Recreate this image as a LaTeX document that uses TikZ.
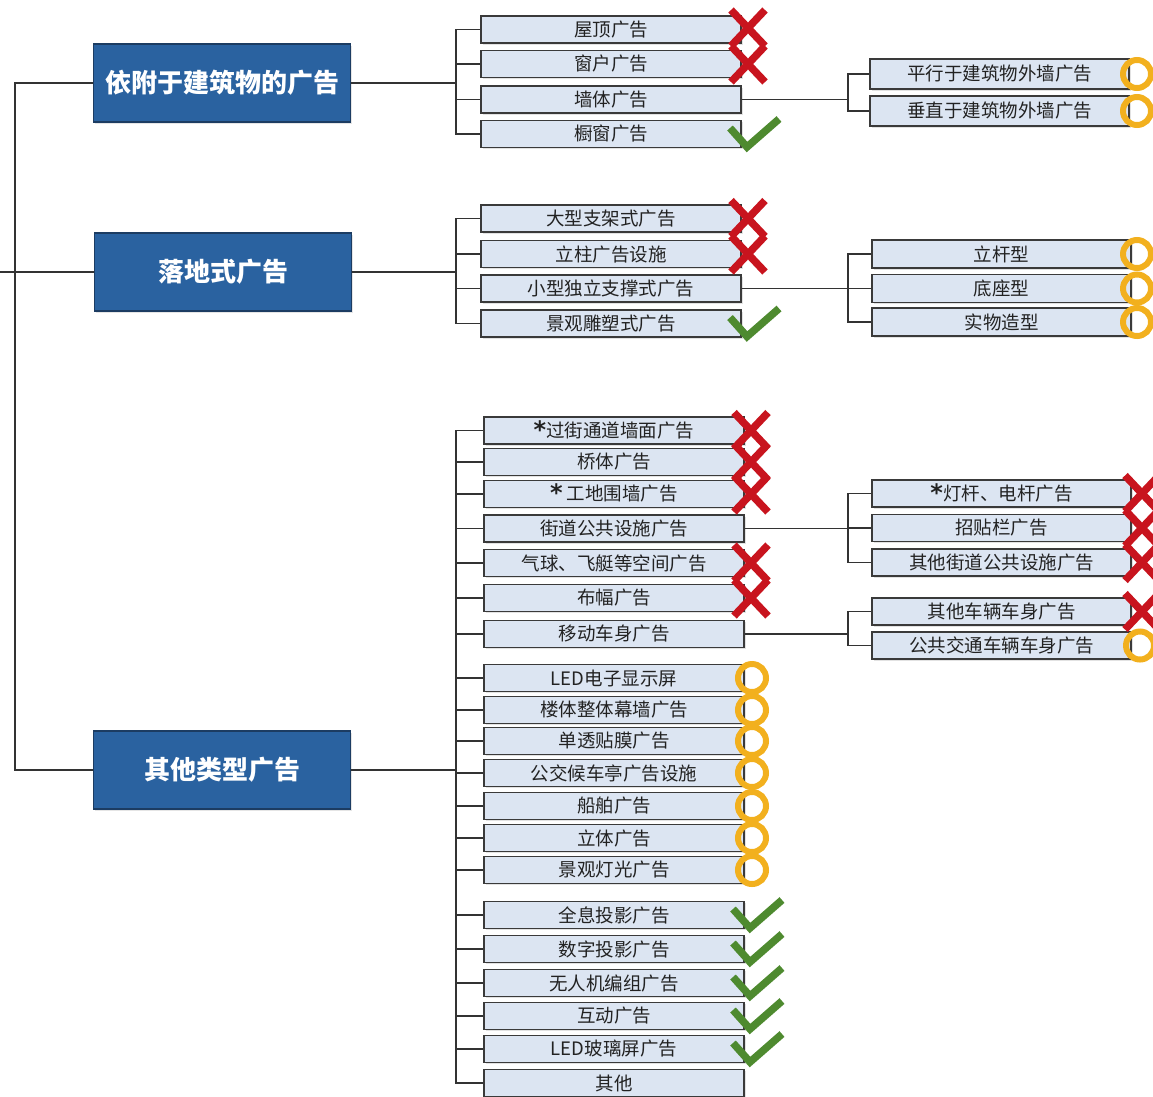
\documentclass[tikz,border=0pt]{standalone}
\usepackage{fontspec}
\newfontfamily\cjkfont{Noto Sans CJK SC}
\newfontfamily\starfont{DejaVu Sans}
\usetikzlibrary{shadows}
\definecolor{mainblue}{HTML}{2A62A0}
\definecolor{mainborder}{HTML}{1C3C62}
\definecolor{leafblue}{HTML}{DCE5F2}
\definecolor{leafborder}{HTML}{3A3A3A}
\definecolor{linegray}{HTML}{333333}
\definecolor{textgray}{HTML}{222222}
\definecolor{redx}{HTML}{C8141E}
\definecolor{greenck}{HTML}{4E8A2F}
\definecolor{ringor}{HTML}{F2B01E}
\newcommand{\mystar}{{\starfont\bfseries\fontsize{24}{24}\selectfont\raisebox{-1pt}[0pt][0pt]{*}}}
\tikzset{
  mainbox/.style={draw=mainborder, fill=mainblue, line width=1.2pt,
    minimum width=257pt, minimum height=78pt, inner sep=0pt, text=white,
    font=\cjkfont\bfseries\fontsize{26}{26}\selectfont,
    drop shadow={shadow xshift=1.5pt, shadow yshift=-1.5pt, fill=gray!40}},
  leaf/.style={draw=leafborder, fill=leafblue, line width=1.4pt,
    minimum width=260pt, minimum height=27pt, inner sep=0pt, text=textgray,
    font=\cjkfont\fontsize{18.5}{18.5}\selectfont,
    drop shadow={shadow xshift=1.5pt, shadow yshift=-1.5pt, fill=gray!45}},
  subleaf/.style={leaf, minimum width=259pt},
  conn/.style={draw=linegray, line width=1.5pt},
  xmark/.pic={\draw[redx, line width=7.5pt] (-17,-18) -- (17,18) (-17,18) -- (17,-18);},
  ckmark/.pic={\draw[greenck, line width=7.5pt, line join=miter] (-22,-6) -- (-5,13) -- (27,-15);},
  ringmark/.pic={\draw[ringor, line width=6pt] (0,0) circle (14);}
}
\begin{document}
\begin{tikzpicture}[x=1pt,y=-1pt]
\useasboundingbox (0,0) rectangle (1153,1096);
% coordinates for connectors
\coordinate (root) at (0,272);
\coordinate (t) at (15,272);
\coordinate (j1) at (456,83);
\coordinate (j2) at (456,272);
\coordinate (j3) at (456,770);
% main boxes
\node[mainbox] (m1) at (222,83) {依附于建筑物的广告};
\node[mainbox] (m2) at (223,272) {落地式广告};
\node[mainbox] (m3) at (222,770) {其他类型广告};
% group 1 leaves
\node[leaf] (a1) at (611,29.5) {屋顶广告};
\node[leaf] (a2) at (611,64) {窗户广告};
\node[leaf] (a3) at (611,99.5) {墙体广告};
\node[leaf] (a4) at (611,134) {橱窗广告};
% group 2 leaves
\node[leaf] (b1) at (611,218.5) {大型支架式广告};
\node[leaf] (b2) at (611,254) {立柱广告设施};
\node[leaf] (b3) at (611,288.5) {小型独立支撑式广告};
\node[leaf] (b4) at (611,323.5) {景观雕塑式广告};
% group 3 leaves
\node[leaf] (c1) at (614,430.5) {\mystar 过街通道墙面广告};
\node[leaf] (c2) at (614,462) {桥体广告};
\node[leaf] (c3) at (614,494) {\mystar\ 工地围墙广告};
\node[leaf] (c4) at (614,528.5) {街道公共设施广告};
\node[leaf] (c5) at (614,563) {气球、飞艇等空间广告};
\node[leaf] (c6) at (614,598) {布幅广告};
\node[leaf] (c7) at (614,634) {移动车身广告};
\node[leaf] (c8) at (614,678) {LED电子显示屏};
\node[leaf] (c9) at (614,710) {楼体整体幕墙广告};
\node[leaf] (c10) at (614,741) {单透贴膜广告};
\node[leaf] (c11) at (614,773) {公交候车亭广告设施};
\node[leaf] (c12) at (614,806) {船舶广告};
\node[leaf] (c13) at (614,838) {立体广告};
\node[leaf] (c14) at (614,870) {景观灯光广告};
\node[leaf] (c15) at (614,915) {全息投影广告};
\node[leaf] (c16) at (614,949) {数字投影广告};
\node[leaf] (c17) at (614,983) {无人机编组广告};
\node[leaf] (c18) at (614,1016) {互动广告};
\node[leaf] (c19) at (614,1049) {LED玻璃屏广告};
\node[leaf] (c20) at (614,1083) {其他};
% sub leaves
\node[subleaf, minimum height=30pt] (s1) at (999.5,74) {平行于建筑物外墙广告};
\node[subleaf, minimum height=30pt] (s2) at (999.5,111) {垂直于建筑物外墙广告};
\node[subleaf, minimum height=28pt] (s3) at (1001.5,254) {立杆型};
\node[subleaf, minimum height=28pt] (s4) at (1001.5,288.5) {底座型};
\node[subleaf, minimum height=28pt] (s5) at (1001.5,322) {实物造型};
\node[subleaf] (s6) at (1001.5,493.5) {\mystar 灯杆、电杆广告};
\node[subleaf] (s7) at (1001.5,528) {招贴栏广告};
\node[subleaf] (s8) at (1001.5,562.5) {其他街道公共设施广告};
\node[subleaf] (s9) at (1001.5,611.5) {其他车辆车身广告};
\node[subleaf] (s10) at (1001.5,645.5) {公共交通车辆车身广告};
% sub junctions
\coordinate (k1) at (848,99.5);
\coordinate (k2) at (848,288.5);
\coordinate (k3) at (848,528.5);
\coordinate (k4) at (848,634);
% connectors
\draw[conn] (root) -- (t);
\draw[conn] (t) |- (m1.west);
\draw[conn] (t) |- (m2.west);
\draw[conn] (t) |- (m3.west);
\draw[conn] (m1.east) -- (j1);
\draw[conn] (m2.east) -- (j2);
\draw[conn] (m3.east) -- (j3);
\foreach \n in {a1,a2,a3,a4} {\draw[conn] (j1) |- (\n.west);}
\foreach \n in {b1,b2,b3,b4} {\draw[conn] (j2) |- (\n.west);}
\foreach \n in {c1,c2,c3,c4,c5,c6,c7,c8,c9,c10,c11,c12,c13,c14,c15,c16,c17,c18,c19,c20} {\draw[conn] (j3) |- (\n.west);}
\draw[conn] (a3.east) -- (k1);
\draw[conn] (b3.east) -- (k2);
\draw[conn] (c4.east) -- (k3);
\draw[conn] (c7.east) -- (k4);
\foreach \n in {s1,s2} {\draw[conn] (k1) |- (\n.west);}
\foreach \n in {s3,s4,s5} {\draw[conn] (k2) |- (\n.west);}
\foreach \n in {s6,s7,s8} {\draw[conn] (k3) |- (\n.west);}
\foreach \n in {s9,s10} {\draw[conn] (k4) |- (\n.west);}
% markers
\foreach \y in {28,64,218.5,254} {\pic at (748,\y) {xmark};}
\foreach \y in {134,323.5} {\pic at (752,\y) {ckmark};}
\foreach \y in {74,111,254,288.5,322} {\pic at (1137,\y) {ringmark};}
\foreach \y in {430.5,462,494,563,598} {\pic at (751,\y) {xmark};}
\foreach \y in {678,710,741,773,806,838,870} {\pic at (752,\y) {ringmark};}
\foreach \y in {915,949,983,1016,1049} {\pic at (755,\y) {ckmark};}
\foreach \y in {493.5,528,562.5,611.5} {\pic at (1142,\y) {xmark};}
\pic at (1140,645.5) {ringmark};
\end{tikzpicture}
\end{document}
